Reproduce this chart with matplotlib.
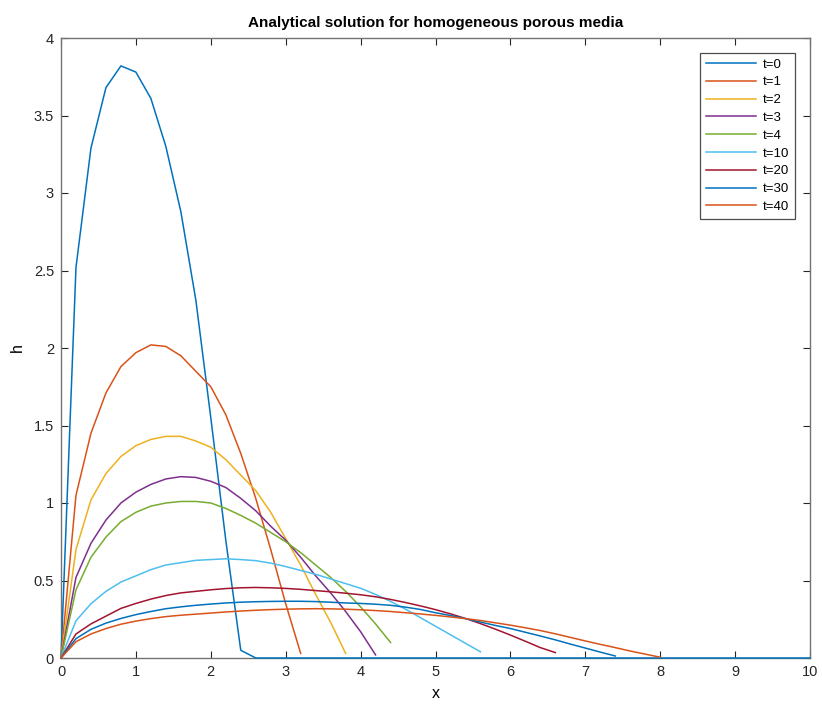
import numpy as np
import matplotlib
matplotlib.use("Agg")
import matplotlib.pyplot as plt

plt.rcParams['font.family'] = ['Liberation Sans', 'DejaVu Sans']

# x grid (step 0.2 from 0 to 10)
x_grid = np.round(np.linspace(0, 10, 51), 1)

labels = ["t=0", "t=1", "t=2", "t=3", "t=4", "t=10", "t=20", "t=30", "t=40"]

h_t0 = [0, 2.52, 3.29, 3.68, 3.82, 3.78, 3.61, 3.30, 2.88, 2.31, 1.55, 0.76, 0.05,
        0, 0, 0, 0, 0, 0, 0, 0, 0, 0, 0, 0, 0, 0, 0, 0, 0, 0, 0, 0, 0, 0, 0, 0, 0,
        0, 0, 0, 0, 0, 0, 0, 0, 0, 0, 0, 0, 0]
h_t1 = [0, 1.05, 1.45, 1.71, 1.88, 1.97, 2.02, 2.01, 1.95, 1.85, 1.75, 1.57, 1.32,
        1.03, 0.70, 0.35, 0.03]
h_t2 = [0, 0.70, 1.02, 1.19, 1.30, 1.37, 1.41, 1.43, 1.43, 1.40, 1.36, 1.28, 1.18,
        1.08, 0.94, 0.77, 0.60, 0.41, 0.23, 0.03]
h_t3 = [0, 0.52, 0.74, 0.89, 1.00, 1.07, 1.12, 1.155, 1.17, 1.165, 1.14, 1.10, 1.03,
        0.95, 0.85, 0.76, 0.65, 0.53, 0.42, 0.30, 0.17, 0.02]
h_t4 = [0, 0.44, 0.65, 0.78, 0.88, 0.94, 0.98, 1.00, 1.01, 1.01, 1.00, 0.965, 0.92,
        0.87, 0.81, 0.75, 0.68, 0.60, 0.52, 0.43, 0.33, 0.22, 0.10]
h_t10 = [0, 0.24, 0.35, 0.43, 0.49, 0.53, 0.57, 0.60, 0.615, 0.63, 0.635, 0.64, 0.635,
         0.628, 0.612, 0.59, 0.565, 0.54, 0.51, 0.48, 0.45, 0.41, 0.365, 0.315, 0.26,
         0.205, 0.15, 0.095, 0.04]
h_t20 = [0, 0.155, 0.22, 0.27, 0.32, 0.352, 0.38, 0.403, 0.42, 0.43, 0.44, 0.448, 0.453,
         0.455, 0.453, 0.449, 0.443, 0.435, 0.427, 0.418, 0.408, 0.395, 0.378, 0.358,
         0.336, 0.312, 0.285, 0.255, 0.222, 0.186, 0.148, 0.108, 0.067, 0.035]
h_t30 = [0, 0.125, 0.185, 0.225, 0.255, 0.28, 0.30, 0.318, 0.33, 0.34, 0.348, 0.355,
         0.36, 0.363, 0.365, 0.366, 0.366, 0.364, 0.36, 0.355, 0.352, 0.347, 0.34,
         0.328, 0.313, 0.292, 0.274, 0.254, 0.232, 0.21, 0.19, 0.166, 0.142, 0.117,
         0.09, 0.064, 0.038, 0.013]
h_t40 = [0, 0.105, 0.155, 0.19, 0.218, 0.238, 0.254, 0.267, 0.276, 0.283, 0.29, 0.297,
         0.303, 0.308, 0.312, 0.315, 0.317, 0.318, 0.317, 0.315, 0.311, 0.306, 0.30,
         0.292, 0.284, 0.275, 0.265, 0.254, 0.242, 0.227, 0.212, 0.195, 0.177, 0.156,
         0.133, 0.11, 0.088, 0.067, 0.045, 0.025, 0.005]

series = [h_t0, h_t1, h_t2, h_t3, h_t4, h_t10, h_t20, h_t30, h_t40]

colors = [(0, 0.447, 0.741), (0.85, 0.325, 0.098), (0.929, 0.694, 0.125),
          (0.494, 0.184, 0.556), (0.466, 0.674, 0.188), (0.301, 0.745, 0.933),
          (0.635, 0.078, 0.184), (0, 0.447, 0.741), (0.85, 0.325, 0.098)]

fig = plt.figure(figsize=(8.22, 7.06), dpi=100)
ax = fig.add_axes([61/822, 1-658/706, (810-61)/822, (658-38)/706])

for h, c, lab in zip(series, colors, labels):
    ax.plot(x_grid[:len(h)], h, color=c, lw=1.1, label=lab, clip_on=False, zorder=3)

ax.set_xlim(0, 10)
ax.set_ylim(0, 4)
ax.set_xticks(np.arange(0, 11, 1))
ax.set_yticks(np.arange(0, 4.01, 0.5))
ax.set_yticklabels(["0", "0.5", "1", "1.5", "2", "2.5", "3", "3.5", "4"])

axis_col = (0.15, 0.15, 0.15)
for s in ax.spines.values():
    s.set_color((0.45, 0.45, 0.45))
    s.set_linewidth(1.0)
    s.set_zorder(2)
ax.tick_params(direction='in', top=True, right=True, length=5, width=0.8,
               colors=axis_col, labelsize=10.5, pad=5)

ax.set_title("Analytical solution for homogeneous porous media", fontsize=11,
             fontweight='bold', pad=8)
ax.set_xlabel("x", fontsize=11.5, labelpad=5)
ax.set_ylabel("h", fontsize=11.5, labelpad=6)

leg = ax.legend(loc='upper right', fontsize=9.5, handlelength=3.8, handletextpad=0.55,
                labelspacing=0.42, borderpad=0.45, borderaxespad=1.1,
                fancybox=False, framealpha=1, edgecolor=(0.3, 0.3, 0.3))
leg.get_frame().set_linewidth(0.9)
leg.set_zorder(5)

fig.savefig("out.png", dpi=100)
